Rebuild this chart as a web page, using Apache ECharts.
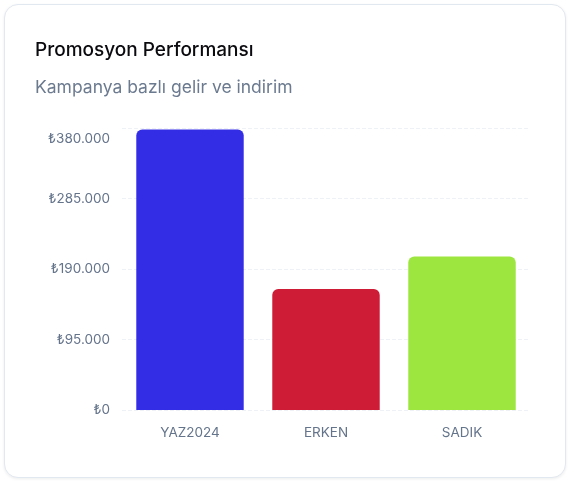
<!DOCTYPE html>
<html>
<head>
<meta charset="utf-8">
<script src="https://cdn.jsdelivr.net/npm/echarts@6/dist/echarts.min.js"></script>
<style>
  html, body { margin: 0; padding: 0; background: #fff; }
  .card {
    position: absolute; left: 4px; top: 4px; width: 560px; height: 472px;
    border: 1px solid #e2e8f0; border-radius: 14px; background: #fff;
    box-shadow: 0 1px 3px rgba(15, 23, 42, 0.08);
  }
  #chart { position: absolute; left: 0; top: 0; width: 572px; height: 484px; }
</style>
</head>
<body>
<div class="card"></div>
<div id="chart"></div>
<script>
  'use strict';

  // kampanya verileri
  var categories = ['YAZ2024', 'ERKEN', 'SADIK'];
  var revenue = [378000, 163000, 207000];
  var barColors = ['#342de6', '#ce1c37', '#9de63f'];
  var yTicks = [0, 95000, 190000, 285000, 380000];

  var yMax = yTicks[yTicks.length - 1];

  var fmtTL = function (v) {
    var s = '₺' + String(v).replace(/\B(?=(\d{3})+(?!\d))/g, '.');
    // en üstteki etiket biraz aşağıda
    return v === yMax ? '{m|' + s + '}' : s;
  };

  var myChart = echarts.init(document.getElementById('chart'));

  myChart.setOption({
    textStyle: { fontFamily: 'Inter, "Noto Sans", sans-serif' },
    title: [
      {
        text: 'Promosyon Performansı',
        left: 35, top: 41, padding: 0,
        textStyle: { fontSize: 19, fontWeight: 500, color: '#0b0b0f', fontFamily: 'Inter' }
      },
      {
        text: 'Kampanya bazlı gelir ve indirim',
        left: 35, top: 79, padding: 0,
        textStyle: { fontSize: 17.5, fontWeight: 400, color: '#6b7a8f', fontFamily: 'Inter' }
      }
    ],
    grid: { left: 122, right: 42, top: 128, bottom: 74, containLabel: false },
    xAxis: {
      type: 'category',
      data: categories,
      axisLine: { show: false },
      axisTick: { show: false },
      axisLabel: { color: '#64748b', fontSize: 13.5, margin: 16 }
    },
    yAxis: {
      type: 'value',
      min: yTicks[0],
      max: yMax,
      interval: yTicks[1] - yTicks[0],
      axisLine: { show: false },
      axisTick: { show: false },
      axisLabel: {
        color: '#64748b', fontSize: 13.5, margin: 12, formatter: fmtTL,
        verticalAlignMaxLabel: 'top',
        rich: {
          m: { color: '#64748b', fontSize: 13.5, padding: [4, 0, 0, 0] }
        }
      },
      splitLine: { lineStyle: { color: '#eef1f5', type: 'dashed' } }
    },
    series: [{
      type: 'bar',
      barWidth: '79%',
      data: revenue.map(function (v, i) {
        return { value: v, itemStyle: { color: barColors[i] } };
      }),
      itemStyle: { borderRadius: [6, 6, 0, 0] }
    }]
  });
</script>
</body>
</html>
